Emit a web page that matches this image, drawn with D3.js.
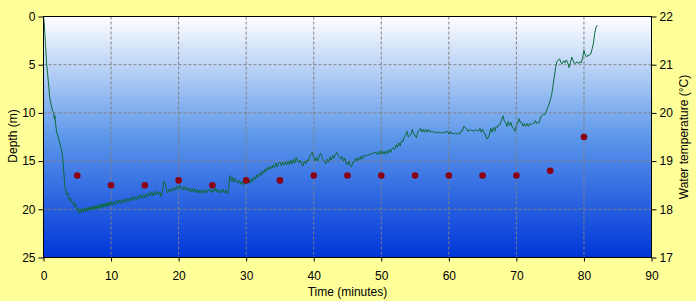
<!DOCTYPE html>
<html>
<head>
<meta charset="utf-8">
<script src="https://cdn.jsdelivr.net/npm/d3@7"></script>
<style>
body { margin: 0; background: #ffff99; }
text { font-family: Arial, "Liberation Sans", sans-serif; }
</style>
</head>
<body>
<script>
// temperature samples (every 5 minutes)
var sampleTimes = [5, 10, 15, 20, 25, 30, 35, 40, 45, 50, 55, 60, 65, 70, 75, 80];
var waterTemp = [18.7, 18.5, 18.5, 18.6, 18.5, 18.6, 18.6, 18.7, 18.7, 18.7, 18.7, 18.7, 18.7, 18.7, 18.8, 19.5];

// depth logger trace [minutes, metres]
var depthTrace = [
 [0,0],[0.1,0.6],[0.2,1.8],[0.3,3.0],[0.45,4.8],[0.6,5.9],[0.75,7.0],[0.9,8.3],[1.05,8.9],[1.2,9.4],
 [1.35,9.8],[1.5,10.0],[1.6,10.6],[1.7,10.3],[1.8,11.2],[1.95,12.0],[2.1,12.3],[2.25,12.7],[2.4,13.1],[2.55,13.5],
 [2.7,14.0],[2.85,14.7],[2.95,15.6],[3.05,16.6],[3.15,17.5],[3.3,18.1],[3.45,18.5],[3.6,18.3],[3.7,18.8],[3.85,19.1],
 [4.0,18.8],[4.15,19.3],[4.3,19.4],[4.45,19.2],[4.6,19.7],[4.75,19.4],[4.9,19.9],[5.05,20.2],[5.2,19.9],[5.35,20.4],
 [5.5,20.0],[5.65,20.3],[5.8,19.9],[5.95,20.3],[6.1,19.9],[6.25,20.2],[6.4,19.8],[6.55,20.2],[6.7,19.8],[6.85,20.1],
 [7.0,19.7],[7.15,20.1],[7.3,19.7],[7.45,20.0],[7.6,19.6],[7.75,20.0],[7.9,19.6],[8.05,19.9],[8.2,19.5],[8.35,19.9],
 [8.5,19.5],[8.65,19.8],[8.8,19.4],[8.95,19.8],[9.1,19.4],[9.25,19.7],[9.4,19.3],[9.55,19.7],[9.7,19.3],[9.85,19.6],
 [10.0,19.2],[10.2,19.6],[10.4,19.2],[10.6,19.5],[10.8,19.1],[11.0,19.4],[11.2,19.0],[11.4,19.4],[11.6,19.0],[11.8,19.3],
 [12.0,18.9],[12.2,19.3],[12.4,18.9],[12.6,19.2],[12.8,18.8],[13.0,19.1],[13.2,18.7],[13.4,19.1],[13.6,18.7],[13.8,19.0],
 [14.0,18.6],[14.2,18.9],[14.4,18.5],[14.6,18.9],[14.8,18.5],[15.0,18.8],[15.2,18.4],[15.4,18.7],[15.6,18.3],[15.8,18.6],
 [16.0,18.2],[16.2,18.6],[16.4,18.2],[16.6,18.5],[16.8,18.1],[17.0,18.5],[17.2,18.2],[17.4,18.7],[17.6,18.1],[17.8,17.1],
 [18.0,17.2],[18.2,18.0],[18.4,18.3],[18.6,17.9],[18.8,18.2],[19.0,17.8],[19.2,18.1],[19.4,17.7],[19.6,18.0],[19.8,17.6],
 [20.0,17.9],[20.2,17.5],[20.4,17.9],[20.6,18.0],[20.8,17.6],[21.0,18.0],[21.2,17.7],[21.4,18.1],[21.6,17.8],[21.8,18.2],
 [22.0,17.8],[22.2,18.2],[22.4,17.9],[22.6,18.3],[22.8,17.9],[23.0,18.3],[23.2,18.0],[23.4,18.4],[23.6,18.0],[23.8,18.3],
 [24.0,17.9],[24.2,18.3],[24.4,18.0],[24.6,17.9],[24.8,18.3],[25.0,17.9],[25.2,18.2],[25.4,17.8],[25.6,18.2],[25.8,17.9],
 [26.0,18.3],[26.2,18.0],[26.4,18.3],[26.6,17.9],[26.8,18.3],[27.0,18.0],[27.2,18.4],[27.4,17.9],[27.55,16.6],[27.7,16.5],
 [27.85,17.1],[28.0,16.7],[28.2,17.2],[28.4,16.8],[28.6,17.1],[28.8,17.3],[29.0,17.0],[29.2,17.4],[29.4,17.1],[29.6,17.5],
 [29.8,17.2],[30.0,17.0],[30.2,17.3],[30.4,16.9],[30.6,17.3],[30.8,16.8],[31.0,17.1],[31.2,16.6],[31.4,16.9],[31.6,16.4],
 [31.8,16.7],[32.0,16.2],[32.2,16.5],[32.4,16.0],[32.6,16.3],[32.8,15.8],[33.0,16.1],[33.2,15.6],[33.4,15.9],[33.6,15.5],
 [33.8,15.8],[34.0,15.4],[34.2,15.7],[34.4,15.2],[34.6,15.6],[34.8,15.2],[35.0,15.1],[35.2,15.5],[35.4,15.1],[35.6,15.4],
 [35.8,15.1],[36.0,15.4],[36.2,15.0],[36.4,15.4],[36.6,14.9],[36.8,15.3],[37.0,14.8],[37.2,15.2],[37.4,14.6],[37.6,15.0],
 [37.8,15.2],[38.0,14.9],[38.2,15.3],[38.4,15.5],[38.6,15.0],[38.8,15.3],[39.0,14.9],[39.2,15.0],[39.4,14.5],[39.6,14.3],
 [39.8,14.1],[40.0,14.6],[40.2,15.0],[40.4,14.6],[40.6,15.0],[40.8,14.5],[41.0,14.2],[41.2,14.5],[41.4,14.9],[41.6,15.1],
 [41.8,15.3],[42.0,14.8],[42.2,15.1],[42.4,14.6],[42.6,14.9],[42.8,14.4],[43.0,14.7],[43.2,14.3],[43.4,14.1],[43.6,14.4],
 [43.8,14.6],[44.0,14.8],[44.2,14.5],[44.4,15.0],[44.6,14.7],[44.8,15.2],[45.0,15.4],[45.2,15.0],[45.4,15.5],[45.6,15.6],
 [45.8,15.1],[46.0,15.1],[46.2,14.7],[46.4,15.0],[46.6,14.6],[46.8,14.9],[47.0,14.5],[47.2,14.8],[47.4,14.4],[47.6,14.5],
 [47.8,14.4],[48.0,14.4],[48.2,14.3],[48.4,14.3],[48.6,14.2],[48.8,14.2],[49.0,14.1],[49.2,14.1],[49.4,14.3],[49.6,14.0],
 [49.8,14.3],[50.0,13.9],[50.2,14.3],[50.4,14.0],[50.6,14.3],[50.8,13.9],[51.0,14.2],[51.2,13.8],[51.4,14.1],[51.6,13.7],
 [51.8,13.6],[52.0,13.8],[52.2,13.3],[52.4,13.6],[52.6,13.1],[52.8,13.4],[53.0,12.9],[53.2,13.0],[53.4,12.5],[53.6,12.3],
 [53.8,11.9],[54.0,12.5],[54.2,12.4],[54.4,12.2],[54.6,11.7],[54.8,12.2],[55.0,12.3],[55.2,12.6],[55.4,12.0],[55.6,11.8],
 [55.8,11.6],[56.0,12.0],[56.2,11.7],[56.4,12.0],[56.6,11.7],[56.8,12.0],[57.0,11.7],[57.2,12.0],[57.4,11.9],[57.6,12.0],
 [57.8,11.9],[58.0,12.1],[58.2,12.0],[58.4,12.1],[58.6,12.0],[58.8,12.1],[59.0,12.0],[59.2,12.1],[59.4,12.0],[59.6,12.0],
 [59.8,11.9],[60.0,12.2],[60.2,11.9],[60.4,12.2],[60.6,12.1],[60.8,12.2],[61.0,12.1],[61.2,12.2],[61.4,12.1],[61.6,12.2],
 [61.8,11.9],[62.0,11.9],[62.2,11.4],[62.4,11.5],[62.6,11.6],[62.8,11.9],[63.0,11.8],[63.2,11.8],[63.4,11.8],[63.6,11.9],
 [63.8,11.8],[64.0,11.8],[64.2,11.8],[64.4,11.9],[64.6,11.6],[64.8,12.0],[65.0,11.7],[65.2,12.1],[65.4,12.2],[65.6,12.7],
 [65.8,12.6],[66.0,12.3],[66.2,11.6],[66.4,12.0],[66.6,11.5],[66.8,11.9],[67.0,11.4],[67.2,11.5],[67.4,11.2],[67.6,11.2],
 [67.8,10.7],[68.0,10.3],[68.2,10.8],[68.4,11.0],[68.6,11.4],[68.8,10.9],[69.0,11.3],[69.2,11.0],[69.4,11.5],[69.6,11.6],
 [69.8,11.9],[70.0,11.3],[70.2,11.1],[70.4,10.6],[70.6,11.0],[70.8,11.0],[71.0,11.4],[71.2,11.1],[71.4,11.4],[71.6,11.1],
 [71.8,11.4],[72.0,11.1],[72.2,11.2],[72.4,11.1],[72.6,11.1],[72.8,10.8],[73.0,11.1],[73.2,11.0],[73.4,11.0],[73.6,10.4],
 [73.8,10.3],[74.0,10.1],[74.2,10.2],[74.4,9.9],[74.6,9.5],[74.8,9.2],[75.0,8.7],[75.2,8.2],[75.4,7.3],[75.6,6.3],
 [75.8,5.3],[76.0,4.7],[76.2,4.5],[76.4,4.4],[76.6,4.8],[76.8,4.9],[77.0,4.6],[77.2,4.8],[77.4,4.5],[77.6,4.8],
 [77.8,5.3],[78.0,4.8],[78.2,4.2],[78.4,4.6],[78.6,4.9],[78.8,4.8],[79.0,4.7],[79.2,4.9],[79.4,4.7],[79.6,4.8],
 [79.8,4.3],[80.0,3.5],[80.2,4.0],[80.4,4.2],[80.6,4.0],[80.8,4.0],[81.0,3.9],[81.2,3.4],[81.4,2.8],[81.6,1.7],
 [81.8,1.1],[82.0,0.9]
];

var timeTicks = [0, 10, 20, 30, 40, 50, 60, 70, 80, 90];
var depthTicks = [0, 5, 10, 15, 20, 25];
var tempTicks = [17, 18, 19, 20, 21, 22];

var W = 696, H = 301;
var m = {left: 43.5, top: 16.5, right: 651.5, bottom: 257.5};

var svg = d3.select('body').append('svg')
	.attr('width', W)
	.attr('height', H);

var x = d3.scaleLinear().domain([0, 90]).range([m.left, m.right]);
var y = d3.scaleLinear().domain([0, 25]).range([m.top, m.bottom]);
var yT = d3.scaleLinear().domain([17, 22]).range([m.bottom, m.top]);

var grad = svg.append('defs').append('linearGradient')
	.attr('id', 'water')
	.attr('x1', 0).attr('y1', 0).attr('x2', 0).attr('y2', 1);
grad.append('stop').attr('offset', '0%').attr('stop-color', '#ffffff');
grad.append('stop').attr('offset', '50%').attr('stop-color', '#5c97ea');
grad.append('stop').attr('offset', '100%').attr('stop-color', '#0036d8');

svg.append('rect')
	.attr('x', m.left).attr('y', m.top)
	.attr('width', m.right - m.left).attr('height', m.bottom - m.top)
	.attr('fill', 'url(#water)');

// grid
svg.append('g').selectAll('line')
	.data(timeTicks.slice(1, -1))
	.enter().append('line')
	.attr('x1', function(d){ return x(d); })
	.attr('x2', function(d){ return x(d); })
	.attr('y1', m.top).attr('y2', m.bottom)
	.style('stroke', '#808080')
	.style('stroke-dasharray', '3,2');

svg.append('g').selectAll('line')
	.data(depthTicks.slice(1, -1))
	.enter().append('line')
	.attr('y1', function(d){ return y(d); })
	.attr('y2', function(d){ return y(d); })
	.attr('x1', m.left).attr('x2', m.right)
	.style('stroke', '#808080')
	.style('stroke-dasharray', '3,2');

// depth trace
var line = d3.line()
	.x(function(d){ return x(d[0]); })
	.y(function(d){ return y(d[1]); });

svg.append('path')
	.datum(depthTrace)
	.attr('d', line)
	.style('fill', 'none')
	.style('stroke', '#0d6a3c')
	.style('stroke-width', 1);

// temperature dots
svg.append('g').selectAll('circle')
	.data(sampleTimes)
	.enter().append('circle')
	.attr('cx', function(d){ return x(d); })
	.attr('cy', function(d, i){ return yT(waterTemp[i]); })
	.attr('r', 3.3)
	.style('fill', '#8a0012');

svg.append('rect')
	.attr('x', m.left).attr('y', m.top)
	.attr('width', m.right - m.left).attr('height', m.bottom - m.top)
	.style('fill', 'none')
	.style('stroke', '#000');

// axes
var ax = svg.append('g')
	.attr('transform', 'translate(0,' + m.bottom + ')')
	.call(d3.axisBottom(x).tickValues(timeTicks).tickSize(4).tickPadding(10));
var ay = svg.append('g')
	.attr('transform', 'translate(' + m.left + ',0)')
	.call(d3.axisLeft(y).tickValues(depthTicks).tickSize(5).tickPadding(3));
var ar = svg.append('g')
	.attr('transform', 'translate(' + m.right + ',0)')
	.call(d3.axisRight(yT).tickValues(tempTicks).tickFormat(d3.format('d')).tickSize(5).tickPadding(3));

[ax, ay, ar].forEach(function(a){
	a.select('.domain').remove();
	a.selectAll('text').style('font-family', 'Arial, "Liberation Sans", sans-serif').style('font-size', '12px').attr('fill', '#000');
});

svg.append('text')
	.attr('x', (m.left + m.right) / 2).attr('y', 296)
	.attr('text-anchor', 'middle')
	.style('font-size', '12px')
	.text('Time (minutes)');

svg.append('text')
	.attr('transform', 'translate(17,136) rotate(-90)')
	.attr('text-anchor', 'middle')
	.style('font-size', '12px')
	.text('Depth (m)');

svg.append('text')
	.attr('transform', 'translate(688,137) rotate(-90)')
	.attr('text-anchor', 'middle')
	.style('font-size', '12px')
	.text('Water temperature (°C)');
</script>
</body>
</html>
